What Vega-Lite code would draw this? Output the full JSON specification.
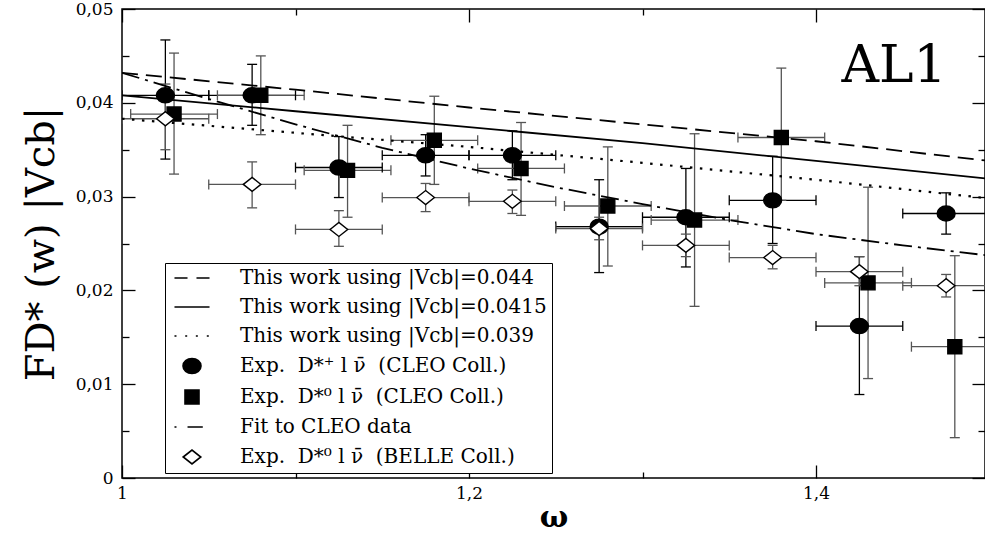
{
  "$schema": "https://vega.github.io/schema/vega-lite/v6.json",
  "width": 863,
  "height": 469,
  "autosize": {"type": "none"},
  "padding": {"left": 122, "top": 9, "right": 0, "bottom": 57},
  "background": "white",
  "config": {
    "view": {"stroke": "black", "strokeWidth": 1.5},
    "font": "DejaVu Serif",
    "axis": {
      "domain": false,
      "grid": false,
      "labelFont": "DejaVu Serif",
      "labelFontSize": 17,
      "labelColor": "black",
      "tickColor": "black",
      "tickWidth": 1.3,
      "titleFont": "DejaVu Serif",
      "titleColor": "black",
      "titleFontWeight": "normal",
      "labelFlush": false,
      "labelOverlap": false
    }
  },
  "datasets": {
    "pts": [
      {"s": "Exp.\u00a0 D*\u207a l \u03bd\u0304 \u00a0(CLEO Coll.)", "w": 1.025, "v": 0.0408, "vlo": 0.0340, "vhi": 0.0467, "wlo": 1.000, "whi": 1.050},
      {"s": "Exp.\u00a0 D*\u207a l \u03bd\u0304 \u00a0(CLEO Coll.)", "w": 1.075, "v": 0.0408, "vlo": 0.0376, "vhi": 0.0441, "wlo": 1.050, "whi": 1.100},
      {"s": "Exp.\u00a0 D*\u207a l \u03bd\u0304 \u00a0(CLEO Coll.)", "w": 1.125, "v": 0.0331, "vlo": 0.0299, "vhi": 0.0364, "wlo": 1.100, "whi": 1.150},
      {"s": "Exp.\u00a0 D*\u207a l \u03bd\u0304 \u00a0(CLEO Coll.)", "w": 1.175, "v": 0.0344, "vlo": 0.0322, "vhi": 0.0366, "wlo": 1.150, "whi": 1.200},
      {"s": "Exp.\u00a0 D*\u207a l \u03bd\u0304 \u00a0(CLEO Coll.)", "w": 1.225, "v": 0.0344, "vlo": 0.0318, "vhi": 0.0370, "wlo": 1.200, "whi": 1.250},
      {"s": "Exp.\u00a0 D*\u207a l \u03bd\u0304 \u00a0(CLEO Coll.)", "w": 1.275, "v": 0.0268, "vlo": 0.0219, "vhi": 0.0318, "wlo": 1.250, "whi": 1.300},
      {"s": "Exp.\u00a0 D*\u207a l \u03bd\u0304 \u00a0(CLEO Coll.)", "w": 1.325, "v": 0.0278, "vlo": 0.0225, "vhi": 0.0330, "wlo": 1.300, "whi": 1.350},
      {"s": "Exp.\u00a0 D*\u207a l \u03bd\u0304 \u00a0(CLEO Coll.)", "w": 1.375, "v": 0.0296, "vlo": 0.0250, "vhi": 0.0343, "wlo": 1.350, "whi": 1.400},
      {"s": "Exp.\u00a0 D*\u207a l \u03bd\u0304 \u00a0(CLEO Coll.)", "w": 1.425, "v": 0.0162, "vlo": 0.0089, "vhi": 0.0236, "wlo": 1.400, "whi": 1.450},
      {"s": "Exp.\u00a0 D*\u207a l \u03bd\u0304 \u00a0(CLEO Coll.)", "w": 1.475, "v": 0.0282, "vlo": 0.0260, "vhi": 0.0304, "wlo": 1.450, "whi": 1.500},
      {"s": "Exp.\u00a0 D*\u2070 l \u03bd\u0304 \u00a0(CLEO Coll.)", "w": 1.030, "v": 0.0388, "vlo": 0.0324, "vhi": 0.0453, "wlo": 1.005, "whi": 1.055},
      {"s": "Exp.\u00a0 D*\u2070 l \u03bd\u0304 \u00a0(CLEO Coll.)", "w": 1.080, "v": 0.0408, "vlo": 0.0366, "vhi": 0.0450, "wlo": 1.055, "whi": 1.105},
      {"s": "Exp.\u00a0 D*\u2070 l \u03bd\u0304 \u00a0(CLEO Coll.)", "w": 1.130, "v": 0.0328, "vlo": 0.0278, "vhi": 0.0376, "wlo": 1.105, "whi": 1.155},
      {"s": "Exp.\u00a0 D*\u2070 l \u03bd\u0304 \u00a0(CLEO Coll.)", "w": 1.180, "v": 0.0360, "vlo": 0.0313, "vhi": 0.0407, "wlo": 1.155, "whi": 1.205},
      {"s": "Exp.\u00a0 D*\u2070 l \u03bd\u0304 \u00a0(CLEO Coll.)", "w": 1.230, "v": 0.0330, "vlo": 0.0280, "vhi": 0.0379, "wlo": 1.205, "whi": 1.255},
      {"s": "Exp.\u00a0 D*\u2070 l \u03bd\u0304 \u00a0(CLEO Coll.)", "w": 1.280, "v": 0.0290, "vlo": 0.0226, "vhi": 0.0353, "wlo": 1.255, "whi": 1.305},
      {"s": "Exp.\u00a0 D*\u2070 l \u03bd\u0304 \u00a0(CLEO Coll.)", "w": 1.330, "v": 0.0275, "vlo": 0.0183, "vhi": 0.0367, "wlo": 1.305, "whi": 1.355},
      {"s": "Exp.\u00a0 D*\u2070 l \u03bd\u0304 \u00a0(CLEO Coll.)", "w": 1.380, "v": 0.0363, "vlo": 0.0296, "vhi": 0.0437, "wlo": 1.355, "whi": 1.405},
      {"s": "Exp.\u00a0 D*\u2070 l \u03bd\u0304 \u00a0(CLEO Coll.)", "w": 1.430, "v": 0.0208, "vlo": 0.0106, "vhi": 0.0310, "wlo": 1.405, "whi": 1.455},
      {"s": "Exp.\u00a0 D*\u2070 l \u03bd\u0304 \u00a0(CLEO Coll.)", "w": 1.480, "v": 0.0140, "vlo": 0.0043, "vhi": 0.0237, "wlo": 1.455, "whi": 1.505},
      {"s": "Exp.\u00a0 D*\u2070 l \u03bd\u0304 \u00a0(BELLE Coll.)", "w": 1.025, "v": 0.0383, "vlo": 0.0350, "vhi": 0.0420, "wlo": 1.000, "whi": 1.050},
      {"s": "Exp.\u00a0 D*\u2070 l \u03bd\u0304 \u00a0(BELLE Coll.)", "w": 1.075, "v": 0.0313, "vlo": 0.0288, "vhi": 0.0337, "wlo": 1.050, "whi": 1.100},
      {"s": "Exp.\u00a0 D*\u2070 l \u03bd\u0304 \u00a0(BELLE Coll.)", "w": 1.125, "v": 0.0265, "vlo": 0.0247, "vhi": 0.0285, "wlo": 1.100, "whi": 1.150},
      {"s": "Exp.\u00a0 D*\u2070 l \u03bd\u0304 \u00a0(BELLE Coll.)", "w": 1.175, "v": 0.0299, "vlo": 0.0284, "vhi": 0.0314, "wlo": 1.150, "whi": 1.200},
      {"s": "Exp.\u00a0 D*\u2070 l \u03bd\u0304 \u00a0(BELLE Coll.)", "w": 1.225, "v": 0.0295, "vlo": 0.0282, "vhi": 0.0307, "wlo": 1.200, "whi": 1.250},
      {"s": "Exp.\u00a0 D*\u2070 l \u03bd\u0304 \u00a0(BELLE Coll.)", "w": 1.275, "v": 0.0266, "vlo": 0.0254, "vhi": 0.0278, "wlo": 1.250, "whi": 1.300},
      {"s": "Exp.\u00a0 D*\u2070 l \u03bd\u0304 \u00a0(BELLE Coll.)", "w": 1.325, "v": 0.0248, "vlo": 0.0236, "vhi": 0.0260, "wlo": 1.300, "whi": 1.350},
      {"s": "Exp.\u00a0 D*\u2070 l \u03bd\u0304 \u00a0(BELLE Coll.)", "w": 1.375, "v": 0.0235, "vlo": 0.0223, "vhi": 0.0248, "wlo": 1.350, "whi": 1.400},
      {"s": "Exp.\u00a0 D*\u2070 l \u03bd\u0304 \u00a0(BELLE Coll.)", "w": 1.425, "v": 0.0220, "vlo": 0.0205, "vhi": 0.0236, "wlo": 1.400, "whi": 1.450},
      {"s": "Exp.\u00a0 D*\u2070 l \u03bd\u0304 \u00a0(BELLE Coll.)", "w": 1.475, "v": 0.0205, "vlo": 0.0193, "vhi": 0.0217, "wlo": 1.450, "whi": 1.500}
    ],
    "curves": [
      {"c": "dash", "w": 1.0, "v": 0.0432}, {"c": "dash", "w": 1.1, "v": 0.0414}, {"c": "dash", "w": 1.2, "v": 0.0395},
      {"c": "dash", "w": 1.3, "v": 0.0377}, {"c": "dash", "w": 1.4, "v": 0.0359}, {"c": "dash", "w": 1.5, "v": 0.0338},
      {"c": "solid", "w": 1.0, "v": 0.0408}, {"c": "solid", "w": 1.1, "v": 0.0391}, {"c": "solid", "w": 1.2, "v": 0.0374},
      {"c": "solid", "w": 1.3, "v": 0.0357}, {"c": "solid", "w": 1.4, "v": 0.0338}, {"c": "solid", "w": 1.5, "v": 0.0319},
      {"c": "dot", "w": 1.0, "v": 0.0383}, {"c": "dot", "w": 1.1, "v": 0.0368}, {"c": "dot", "w": 1.2, "v": 0.0353},
      {"c": "dot", "w": 1.3, "v": 0.0336}, {"c": "dot", "w": 1.4, "v": 0.0318}, {"c": "dot", "w": 1.5, "v": 0.0298},
      {"c": "fit", "w": 1.0, "v": 0.0432}, {"c": "fit", "w": 1.05, "v": 0.0404}, {"c": "fit", "w": 1.1, "v": 0.0377},
      {"c": "fit", "w": 1.15, "v": 0.0352}, {"c": "fit", "w": 1.2, "v": 0.0330}, {"c": "fit", "w": 1.25, "v": 0.0310},
      {"c": "fit", "w": 1.3, "v": 0.0292}, {"c": "fit", "w": 1.35, "v": 0.0275}, {"c": "fit", "w": 1.4, "v": 0.0260},
      {"c": "fit", "w": 1.45, "v": 0.0248}, {"c": "fit", "w": 1.5, "v": 0.0237}
    ]
  },
  "layer": [
    {
      "data": {"name": "pts"},
      "mark": {"type": "rule", "strokeWidth": 1.3},
      "encoding": {
        "x": {"field": "w", "type": "quantitative", "scale": {"domain": [1, 1.4974], "nice": false, "zero": false}, "axis": null},
        "y": {"field": "vlo", "type": "quantitative", "scale": {"domain": [0, 0.05], "nice": false}, "axis": null},
        "y2": {"field": "vhi"},
        "color": {"field": "s", "type": "nominal", "scale": {"domain": ["Exp.\u00a0 D*\u207a l \u03bd\u0304 \u00a0(CLEO Coll.)", "Exp.\u00a0 D*\u2070 l \u03bd\u0304 \u00a0(CLEO Coll.)", "Exp.\u00a0 D*\u2070 l \u03bd\u0304 \u00a0(BELLE Coll.)"], "range": ["black", "#555555", "#555555"]}, "legend": null}
      }
    },
    {
      "data": {"name": "pts"},
      "mark": {"type": "rule", "strokeWidth": 1.3, "clip": true},
      "encoding": {
        "x": {"field": "wlo", "type": "quantitative", "scale": {"domain": [1, 1.4974], "nice": false, "zero": false}, "axis": null},
        "x2": {"field": "whi"},
        "y": {"field": "v", "type": "quantitative", "scale": {"domain": [0, 0.05], "nice": false}, "axis": null},
        "color": {"field": "s", "type": "nominal", "legend": null}
      }
    },
    {
      "data": {"name": "pts"},
      "mark": {"type": "point", "shape": "M-1,0H1", "size": 100, "filled": false, "strokeWidth": 1.3, "opacity": 1},
      "encoding": {
        "x": {"field": "w", "type": "quantitative", "scale": {"domain": [1, 1.4974], "nice": false, "zero": false}, "axis": null},
        "y": {"field": "vlo", "type": "quantitative", "scale": {"domain": [0, 0.05], "nice": false}, "axis": null},
        "color": {"field": "s", "type": "nominal", "legend": null}
      }
    },
    {
      "data": {"name": "pts"},
      "mark": {"type": "point", "shape": "M-1,0H1", "size": 100, "filled": false, "strokeWidth": 1.3, "opacity": 1},
      "encoding": {
        "x": {"field": "w", "type": "quantitative", "scale": {"domain": [1, 1.4974], "nice": false, "zero": false}, "axis": null},
        "y": {"field": "vhi", "type": "quantitative", "scale": {"domain": [0, 0.05], "nice": false}, "axis": null},
        "color": {"field": "s", "type": "nominal", "legend": null}
      }
    },
    {
      "data": {"name": "pts"},
      "mark": {"type": "point", "shape": "M0,-1V1", "size": 100, "filled": false, "strokeWidth": 1.3, "opacity": 1, "clip": true},
      "encoding": {
        "x": {"field": "wlo", "type": "quantitative", "scale": {"domain": [1, 1.4974], "nice": false, "zero": false}, "axis": null},
        "y": {"field": "v", "type": "quantitative", "scale": {"domain": [0, 0.05], "nice": false}, "axis": null},
        "color": {"field": "s", "type": "nominal", "legend": null}
      }
    },
    {
      "data": {"name": "pts"},
      "mark": {"type": "point", "shape": "M0,-1V1", "size": 100, "filled": false, "strokeWidth": 1.3, "opacity": 1, "clip": true},
      "encoding": {
        "x": {"field": "whi", "type": "quantitative", "scale": {"domain": [1, 1.4974], "nice": false, "zero": false}, "axis": null},
        "y": {"field": "v", "type": "quantitative", "scale": {"domain": [0, 0.05], "nice": false}, "axis": null},
        "color": {"field": "s", "type": "nominal", "legend": null}
      }
    },
    {
      "data": {"name": "curves"},
      "transform": [{"filter": "datum.c == 'dash'"}],
      "mark": {"type": "line", "color": "black", "strokeWidth": 1.8, "strokeDash": [16, 8], "clip": true},
      "encoding": {
        "x": {"field": "w", "type": "quantitative", "scale": {"domain": [1, 1.4974], "nice": false, "zero": false},
              "axis": {"orient": "top", "values": [1, 1.1, 1.2, 1.3, 1.4], "labels": false, "title": null,
                       "tickSize": {"condition": {"test": "abs(datum.value - 1.1) < 0.01 || abs(datum.value - 1.3) < 0.01", "value": -6}, "value": -13}}},
        "y": {"field": "v", "type": "quantitative", "scale": {"domain": [0, 0.05], "nice": false},
              "axis": {"orient": "right", "values": [0, 0.005, 0.01, 0.015, 0.02, 0.025, 0.03, 0.035, 0.04, 0.045, 0.05], "labels": false, "title": null,
                       "tickSize": {"condition": {"test": "round(datum.value * 1000) % 10 != 0", "value": -7}, "value": -13}}}
      }
    },
    {
      "data": {"name": "curves"},
      "transform": [{"filter": "datum.c == 'solid'"}],
      "mark": {"type": "line", "color": "black", "strokeWidth": 1.8, "clip": true},
      "encoding": {
        "x": {"field": "w", "type": "quantitative", "scale": {"domain": [1, 1.4974], "nice": false, "zero": false}, "axis": null},
        "y": {"field": "v", "type": "quantitative", "scale": {"domain": [0, 0.05], "nice": false}, "axis": null}
      }
    },
    {
      "data": {"name": "curves"},
      "transform": [{"filter": "datum.c == 'dot'"}],
      "mark": {"type": "line", "color": "black", "strokeWidth": 2.2, "strokeDash": [2.5, 7.5], "clip": true},
      "encoding": {
        "x": {"field": "w", "type": "quantitative", "scale": {"domain": [1, 1.4974], "nice": false, "zero": false}, "axis": null},
        "y": {"field": "v", "type": "quantitative", "scale": {"domain": [0, 0.05], "nice": false}, "axis": null}
      }
    },
    {
      "data": {"name": "curves"},
      "transform": [{"filter": "datum.c == 'fit'"}],
      "mark": {"type": "line", "color": "black", "strokeWidth": 1.8, "strokeDash": [18, 6, 3, 6], "clip": true},
      "encoding": {
        "x": {"field": "w", "type": "quantitative", "scale": {"domain": [1, 1.4974], "nice": false, "zero": false}, "axis": null},
        "y": {"field": "v", "type": "quantitative", "scale": {"domain": [0, 0.05], "nice": false}, "axis": null}
      }
    },
    {
      "data": {"name": "pts"},
      "mark": {"type": "point", "filled": true, "size": 256, "strokeWidth": 1.4, "opacity": 1},
      "encoding": {
        "x": {"field": "w", "type": "quantitative", "scale": {"domain": [1, 1.4974], "nice": false, "zero": false},
              "axis": {"orient": "bottom", "values": [1, 1.1, 1.2, 1.3, 1.4], "format": ".1f",
                       "labelExpr": "datum.label == '1.0' ? '1' : datum.label == '1.2' ? '1,2' : datum.label == '1.4' ? '1,4' : ''",
                       "tickSize": {"condition": {"test": "abs(datum.value - 1.1) < 0.01 || abs(datum.value - 1.3) < 0.01", "value": -6}, "value": -13},
                       "labelPadding": 20,
                       "title": "\u03c9", "titleFontSize": 30, "titleFontWeight": "bold", "titlePadding": -6}},
        "y": {"field": "v", "type": "quantitative", "scale": {"domain": [0, 0.05], "nice": false},
              "axis": {"orient": "left", "values": [0, 0.005, 0.01, 0.015, 0.02, 0.025, 0.03, 0.035, 0.04, 0.045, 0.05], "format": ".3f",
                       "labelExpr": "round(datum.value * 1000) % 10 != 0 ? '' : (datum.value == 0 ? '0' : replace(format(datum.value, '.2f'), '.', ','))",
                       "tickSize": {"condition": {"test": "round(datum.value * 1000) % 10 != 0", "value": -7}, "value": -13},
                       "labelPadding": 22,
                       "title": "FD* (w) |Vcb|", "titleFontSize": 40, "titlePadding": 14}},
        "shape": {"field": "s", "type": "nominal",
                  "scale": {"domain": ["This work using |Vcb|=0.044", "This work using |Vcb|=0.0415", "This work using |Vcb|=0.039", "Exp.\u00a0 D*\u207a l \u03bd\u0304 \u00a0(CLEO Coll.)", "Exp.\u00a0 D*\u2070 l \u03bd\u0304 \u00a0(CLEO Coll.)", "Fit to CLEO data", "Exp.\u00a0 D*\u2070 l \u03bd\u0304 \u00a0(BELLE Coll.)"],
                            "range": ["M-2.19,0H-0.56M0.56,0H2.19", "M-2.19,0H2.19", "M-2.19,0H-1.94M-0.85,0H-0.6M0.48,0H0.73M1.85,0H2.1", "M-1.125,0A1.125,0.94 0 1,0 1.125,0A1.125,0.94 0 1,0 -1.125,0Z", "M-0.875,-0.875H0.875V0.875H-0.875Z", "M-2.19,0H-1.94M-0.56,0H1.35", "M-1.1,0L0,-0.875L1.1,0L0,0.875Z"]},
                  "legend": {"title": null, "orient": "none", "legendX": 43, "legendY": 254, "labelFont": "DejaVu Serif", "labelFontSize": 20, "labelColor": "black", "labelLimit": 500,
                             "symbolSize": 256, "symbolStrokeWidth": 1.6, "symbolStrokeColor": "black", "symbolOpacity": 1, "symbolOffset": 12, "labelOffset": 38,
                             "rowPadding": 9, "padding": 5, "strokeColor": "black", "fillColor": "white"}},
        "fill": {"field": "s", "type": "nominal",
                 "scale": {"domain": ["This work using |Vcb|=0.044", "This work using |Vcb|=0.0415", "This work using |Vcb|=0.039", "Exp.\u00a0 D*\u207a l \u03bd\u0304 \u00a0(CLEO Coll.)", "Exp.\u00a0 D*\u2070 l \u03bd\u0304 \u00a0(CLEO Coll.)", "Fit to CLEO data", "Exp.\u00a0 D*\u2070 l \u03bd\u0304 \u00a0(BELLE Coll.)"],
                           "range": ["transparent", "transparent", "transparent", "black", "black", "transparent", "white"]},
                 "legend": {"title": null, "orient": "none", "legendX": 43, "legendY": 254, "labelFont": "DejaVu Serif", "labelFontSize": 20, "labelColor": "black", "labelLimit": 500,
                            "symbolSize": 256, "symbolStrokeWidth": 1.6, "symbolStrokeColor": "black", "symbolOpacity": 1, "symbolOffset": 12, "labelOffset": 38,
                            "rowPadding": 9, "padding": 5, "strokeColor": "black", "fillColor": "white"}},
        "stroke": {"field": "s", "type": "nominal",
                   "scale": {"domain": ["This work using |Vcb|=0.044", "This work using |Vcb|=0.0415", "This work using |Vcb|=0.039", "Exp.\u00a0 D*\u207a l \u03bd\u0304 \u00a0(CLEO Coll.)", "Exp.\u00a0 D*\u2070 l \u03bd\u0304 \u00a0(CLEO Coll.)", "Fit to CLEO data", "Exp.\u00a0 D*\u2070 l \u03bd\u0304 \u00a0(BELLE Coll.)"],
                             "range": ["black", "black", "black", "black", "black", "black", "black"]},
                   "legend": {"title": null, "orient": "none", "legendX": 43, "legendY": 254, "labelFont": "DejaVu Serif", "labelFontSize": 20, "labelColor": "black", "labelLimit": 500,
                              "symbolSize": 256, "symbolStrokeWidth": 1.6, "symbolStrokeColor": "black", "symbolOpacity": 1, "symbolOffset": 12, "labelOffset": 38,
                              "rowPadding": 9, "padding": 5, "strokeColor": "black", "fillColor": "white"}}
      }
    },
    {
      "data": {"values": [{}]},
      "mark": {"type": "text", "font": "DejaVu Serif", "fontSize": 52, "align": "center", "baseline": "alphabetic", "color": "black"},
      "encoding": {
        "x": {"datum": 1.445, "type": "quantitative", "scale": {"domain": [1, 1.4974], "nice": false, "zero": false}, "axis": null},
        "y": {"datum": 0.0422, "type": "quantitative", "scale": {"domain": [0, 0.05], "nice": false}, "axis": null},
        "text": {"value": "AL1"}
      }
    }
  ],
  "resolve": {"axis": {"x": "independent", "y": "independent"}}
}
